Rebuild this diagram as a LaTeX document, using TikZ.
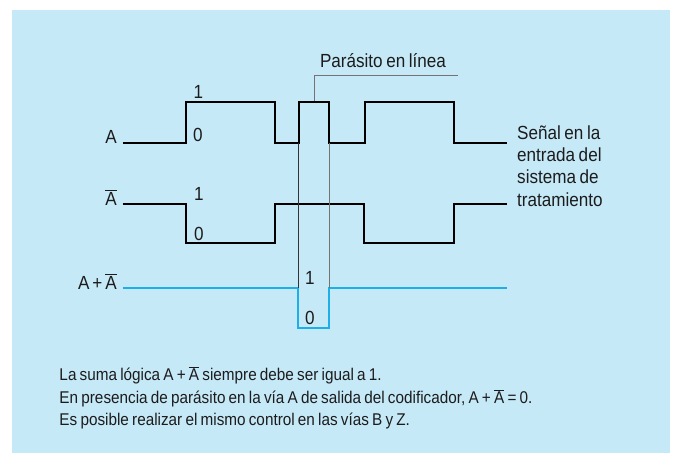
\documentclass[tikz,border=0pt]{standalone}
\usepackage{fontspec}
\setmainfont{Liberation Sans}[FakeStretch=0.9, WordSpace=0.75]
\usetikzlibrary{positioning}
\definecolor{panel}{HTML}{C6E9F8}
\definecolor{sumline}{HTML}{1EAEE8}
\definecolor{ink}{HTML}{1C1C1C}
\newcommand{\nA}{$\overline{\hbox{A}}$}

\begin{document}
\begin{tikzpicture}[x=1pt, y=-1pt, every node/.style={font=\fontsize{19}{22.5}\selectfont, text=ink, inner sep=0pt}, note/.style={anchor=base west, font=\fontsize{17}{22.5}\selectfont}, sig/.style={line width=2pt, line join=miter}, lvl/.style={anchor=base west}, lbl/.style={anchor=base east}]
\useasboundingbox (0,0) rectangle (673,453);
\fill[panel] (12,10) rectangle (670,453);
% signals
\draw[sig, black] (122.7,142.7) -| (186,102.3) -| (275.3,142.7) -| (298.7,102.3) -| (329,142.7) -| (365,102.3) -| (454,142.7) -- (506.7,142.7);
\draw[sig, black] (122.7,204) -| (185.7,243.3) -| (275.3,204) -| (364.3,243.3) -| (454,204) -- (506.7,204);
\draw[sig, sumline] (122.7,287.7) -| (298.3,327.7) -| (329.3,287.7) -- (506.7,287.7);
% parasite window
\draw[black!80, line width=0.8pt] (298.7,142.7) -- (298.7,287.7);
\draw[black!55, line width=0.8pt] (329,142.7) -- (329,287.7);
\draw[black!55, line width=0.8pt] (314.3,101.3) |- (457.7,75.7);
% labels
\node[lbl] (la) at (117,143.5) {A};
\node[lbl] (lna) at (117,205) {\nA};
\node[lbl] (lsum) at (117,289) {A\hspace{3pt}+\hspace{3pt}\nA};
\node[lvl] (a1) at (193.3,98.3) {1};
\node[lvl] (a0) at (193,141.7) {0};
\node[lvl] (na1) at (194,200.7) {1};
\node[lvl] (na0) at (194,240) {0};
\node[lvl] (s1) at (305,284.3) {1};
\node[lvl] (s0) at (305,324) {0};
\node[anchor=base] (par) at (383,67.3) {Parásito en línea};
% right caption
\node[lvl] (sen1) at (517,139) {Señal en la};
\node[lvl] (sen2) at (517,161.4) {entrada del};
\node[lvl] (sen3) at (517,183.8) {sistema de};
\node[lvl] (sen4) at (517,206.2) {tratamiento};
% notes
\node[note] (n1) at (59.3,380.7) {La suma lógica A + \nA{} siempre debe ser igual a 1.};
\node[note] (n2) at (59.3,403.2) {En presencia de parásito en la vía A de salida del codificador, A + \nA{} = 0.};
\node[note] (n3) at (59.3,425.7) {Es posible realizar el mismo control en las vías B y Z.};
\end{tikzpicture}
\end{document}
